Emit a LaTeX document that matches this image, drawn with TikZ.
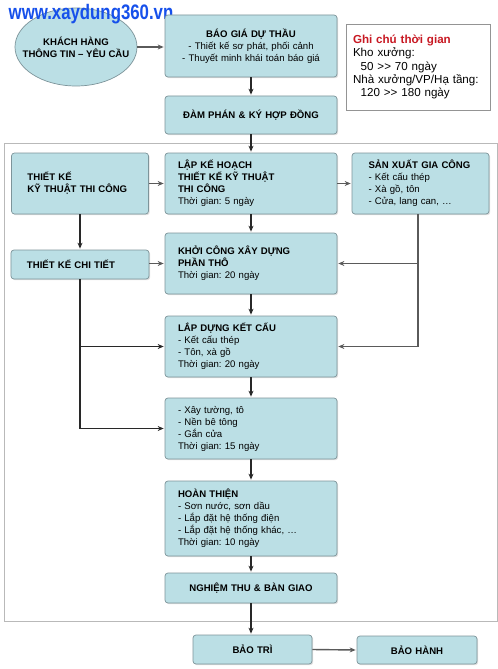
\documentclass[tikz,border=0pt]{standalone}
\usepackage{fontspec}
\setmainfont{Liberation Sans}
\usepackage{tikz}
\usetikzlibrary{arrows.meta,shapes.geometric,positioning,calc,shadows}
\definecolor{boxFill}  {RGB}{187,223,229}
\definecolor{boxLine}  {RGB}{125,148,154}
\definecolor{lineDark} {RGB}{40, 40, 40}
\definecolor{lineGray} {RGB}{90, 90, 90}
\definecolor{webBlue}  {RGB}{22, 80, 235}
\definecolor{noteRed}  {RGB}{200,25, 35}
\definecolor{frameGray}{RGB}{185,185,185}

\newcommand{\boxfont}{\fontsize{9.6bp}{12bp}\selectfont}
\newcommand{\notefont}{\fontsize{11.6bp}{13.4bp}\selectfont}
\frenchspacing

\tikzset{
  stepbox/.style={rectangle,rounded corners=3bp,draw=boxLine,fill=boxFill,
    line width=0.7bp,font=\boxfont,inner ysep=3bp,
    drop shadow={shadow xshift=1.2bp,shadow yshift=-1.2bp,opacity=0.25}},
  leftbox/.style={stepbox,align=left},
  midbox/.style={stepbox,align=center},
  flow/.style={-{Stealth[length=6bp,width=5bp]},draw=lineDark,
    line width=1.1bp,shorten >=1bp},
  sideflow/.style={flow,draw=lineGray,line width=1.4bp}
}

\begin{document}
\begin{tikzpicture}[x=1bp,y=-1bp]

    \fill[white] (0,0) rectangle (496,669);

    % ── KHACH HANG / BAO GIA ──────────────────────────────
    \node[ellipse,draw=boxLine,fill=boxFill,line width=0.7bp,font=\boxfont,
          align=center,minimum width=122bp,minimum height=78bp,
          inner xsep=-16bp,inner ysep=0pt]
      (cust) at (76,47){\textbf{KHÁCH HÀNG}\\\textbf{THÔNG TIN – YÊU CẦU}};
    \node[font=\bfseries\fontsize{21bp}{21bp}\selectfont,webBlue,xscale=0.8,
          inner sep=0pt] (web) at (91,14){www.xaydung360.vn};

    \node[midbox,text width=160bp,inner xsep=6bp,minimum height=62bp]
      (quote) at (251,46){\textbf{BÁO GIÁ DỰ THẦU}\\- Thiết kế sơ phát, phối cảnh\\- Thuyết minh khái toán báo giá};
    \node[midbox,text width=160bp,inner xsep=6bp,minimum height=38bp]
      (deal) at (251,115){\textbf{ĐÀM PHÁN \& KÝ HỢP ĐỒNG}};

    % ghi chu
    \node[draw=frameGray!80!black,fill=white,line width=0.6bp,font=\notefont,
          align=left,text width=130bp,inner xsep=7bp,minimum height=86bp]
      (note) at (418,67){{\color{noteRed}\textbf{Ghi chú thời gian}}\\Kho xưởng:\\\ \ 50 >{}> 70 ngày\\Nhà xưởng/VP/Hạ tầng:\\\ \ 120 >{}> 180 ngày};

    % ── THI CONG ───────────────────────────────────────────
    \draw[frameGray,line width=0.7bp] (4,143) rectangle (497,621);

    \node[leftbox,text width=105bp,inner xsep=16bp,minimum height=61bp]
      (tech) at (80,183.5){\textbf{THIẾT KẾ}\\\textbf{KỸ THUẬT THI CÔNG}};
    \node[leftbox,text width=106bp,inner xsep=16bp,minimum height=29bp]
      (detail) at (80,264.5){\textbf{THIẾT KẾ CHI TIẾT}};
    \node[leftbox,text width=104bp,inner xsep=16.5bp,minimum height=61bp]
      (prod) at (420.5,183.5){\textbf{SẢN XUẤT GIA CÔNG}\\- Kết cấu thép\\- Xà gồ, tôn\\- Cửa, lang can, …};

    \node[leftbox,text width=146bp,inner xsep=13bp,minimum height=61bp]
      (plan) at (251,183.5){\textbf{LẬP KẾ HOẠCH}\\\textbf{THIẾT KẾ KỸ THUẬT}\\\textbf{THI CÔNG}\\Thời gian: 5 ngày};
    \node[leftbox,text width=146bp,inner xsep=13bp,minimum height=61bp]
      (rough) at (251,263.5){\textbf{KHỞI CÔNG XÂY DỰNG}\\\textbf{PHẦN THÔ}\\Thời gian: 20 ngày};
    \node[leftbox,text width=146bp,inner xsep=13bp,minimum height=61bp]
      (frame) at (251,346.5){\textbf{LẮP DỰNG KẾT CẤU}\\- Kết cấu thép\\- Tôn, xà gồ\\Thời gian: 20 ngày};
    \node[leftbox,text width=146bp,inner xsep=13bp,minimum height=61bp]
      (wall) at (251,428.5){- Xây tường, tô\\- Nền bê tông\\- Gắn cửa\\Thời gian: 15 ngày};
    \node[leftbox,text width=146bp,inner xsep=13bp,minimum height=75bp]
      (finish) at (251,518.5){\textbf{HOÀN THIỆN}\\- Sơn nước, sơn dầu\\- Lắp đặt hệ thống điện\\- Lắp đặt hệ thống khác, …\\Thời gian: 10 ngày};
    \node[midbox,text width=160bp,inner xsep=6bp,minimum height=30bp]
      (accept) at (251,588){\textbf{NGHIỆM THU \& BÀN GIAO}};

    % ── BAO TRI / BAO HANH ─────────────────────────────────
    \node[midbox,text width=107bp,inner xsep=6bp,minimum height=29bp]
      (maint) at (252.5,649.5){\textbf{BẢO TRÌ}};
    \node[midbox,text width=108bp,inner xsep=6bp,minimum height=28bp]
      (warr) at (417,650){\textbf{BẢO HÀNH}};

    % mui ten
    \draw[sideflow] (cust.east) -- (cust.east -| quote.west);
    \foreach \from/\to in {quote/deal, deal/plan, plan/rough, rough/frame,
                           frame/wall, wall/finish, finish/accept}{
      \draw[flow] (\from) -- (\to);
    }
    \draw[flow] (accept.south) -- (accept.south |- maint.north);
    \draw[sideflow] (maint.east) -- (warr.west);

    \draw[flow] (tech.south) -- (detail.north);
    \draw[sideflow] (tech.east |- plan.west) -- (plan.west);
    \draw[sideflow] (plan.east) -- (prod.west);
    \draw[sideflow] (detail.east |- rough.west) -- (rough.west);

    \coordinate (prodDrop) at ($(prod.south)+(-2.5,0)$);
    \draw[sideflow] (prodDrop) |- (frame.east);
    \draw[sideflow] (prodDrop |- rough.east) -- (rough.east);

    \draw[flow] (detail.south) |- (wall.west);
    \draw[flow] (detail.south |- frame.west) -- (frame.west);

  \end{tikzpicture}
\end{document}
